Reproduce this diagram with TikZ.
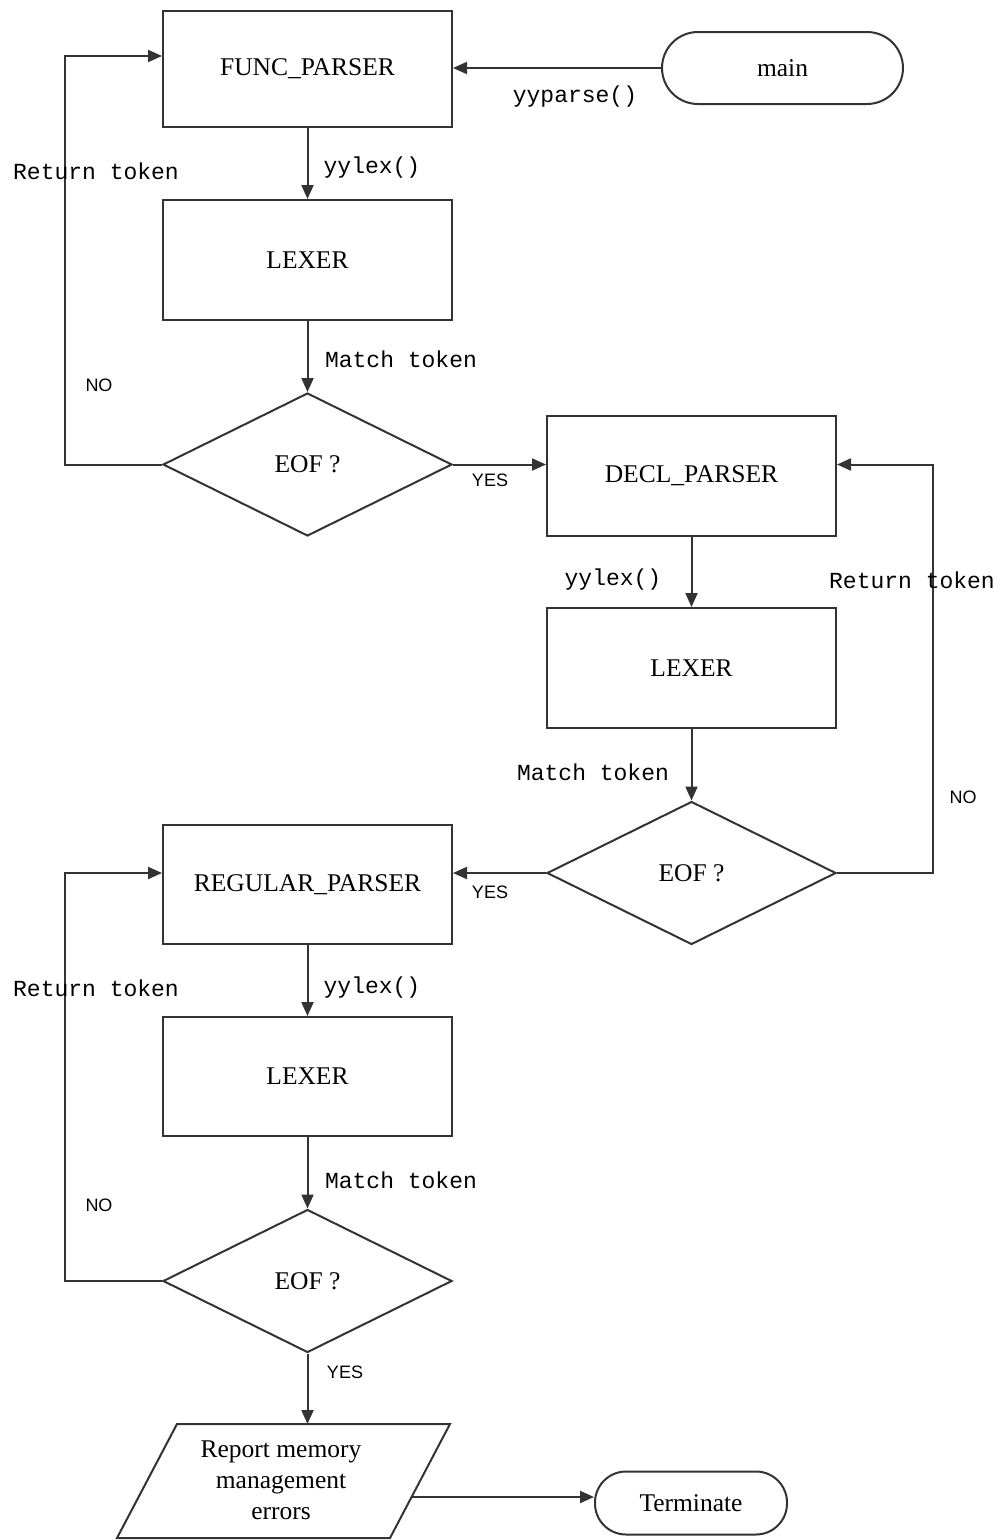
\documentclass[tikz,border=0pt]{standalone}
\usepackage{fontspec}
\setmainfont{Liberation Serif}
\newfontfamily\monof{Liberation Mono}
\newfontfamily\sansf{Liberation Sans}
\usetikzlibrary{arrows.meta,shapes.geometric}
\begin{document}
\begin{tikzpicture}[x=1pt,y=-1pt,
  line/.style={draw=black!80, line width=2pt},
  arr/.style={line, -{Triangle[length=14pt,width=12pt]}},
  proc/.style={draw=black!80, line width=2pt, minimum width=289pt, inner sep=0pt, font=\fontsize{25.5}{28}\selectfont},
  dec/.style={diamond, draw=black!80, line width=2pt, minimum width=289pt, minimum height=143pt, aspect=2, inner sep=0pt, font=\fontsize{25.5}{28}\selectfont},
  term/.style={draw=black!80, line width=2pt, inner sep=0pt, font=\fontsize{25.5}{28}\selectfont},
  lab/.style={font=\monof\fontsize{23}{26}\selectfont, inner sep=0pt},
  yn/.style={font=\sansf\fontsize{18}{20}\selectfont, inner sep=0pt}]
\useasboundingbox (0,0) rectangle (1001,1540);

% nodes
\node[proc, minimum height=116pt] (fp) at (307.5,69) {FUNC\_PARSER};
\node[proc, minimum height=120pt] (lx1) at (307.5,260) {LEXER};
\node[dec] (d1) at (307.5,464.5) {EOF ?};
\node[proc, minimum height=120pt] (dp) at (691.5,476) {DECL\_PARSER};
\node[proc, minimum height=120pt] (lx2) at (691.5,668) {LEXER};
\node[dec] (d2) at (691.5,873) {EOF ?};
\node[proc, minimum height=119pt] (rp) at (307.5,884.5) {REGULAR\_PARSER};
\node[proc, minimum height=119pt] (lx3) at (307.5,1076.5) {LEXER};
\node[dec] (d3) at (307.5,1281) {EOF ?};
\node[term, minimum width=241pt, minimum height=72pt, rounded corners=36pt] (main) at (782.5,68) {main};
\node[term, minimum width=192pt, minimum height=63pt, rounded corners=31pt] (term) at (691,1503) {Terminate};

% parallelogram
\draw[line] (177,1424) -- (450,1424) -- (390,1538) -- (117,1538) -- cycle;
\node[align=center, inner sep=0pt, font=\fontsize{25.5}{31}\selectfont] (rep) at (281,1480) {Report memory\\management\\errors};
\coordinate (repT) at (307.5,1424);
\coordinate (repR) at (411.6,1497);

% connectors
\draw[arr] (main.west) -- (main.west -| fp.east);
\draw[arr] (fp.south) -- (lx1.north);
\draw[arr] (lx1.south) -- (d1.north);
\draw[arr] (d1.west) -- ++(-97,0) |- ([yshift=13pt]fp.west);
\draw[arr] (d1.east) -- (d1.east -| dp.west);
\draw[arr] (dp.south) -- (lx2.north);
\draw[arr] (lx2.south) -- (d2.north);
\draw[arr] (d2.east) -- ++(96,0) |- (d1.east -| dp.east);
\draw[arr] (d2.west) -- (d2.west -| rp.east);
\draw[arr] (rp.south) -- (lx3.north);
\draw[arr] (lx3.south) -- (d3.north);
\draw[arr] (d3.west) -- ++(-97,0) |- (d2.west -| rp.west);
\draw[arr] (d3.south) -- (repT);
\draw[arr] (repR) -- (repR -| term.west);

% labels
\node[lab] (l1) at (575,97) {yyparse()};
\node[lab] (l2) at (372,168) {yylex()};
\node[lab] (l3) at (96,171) {Return token};
\node[lab] (l4) at (401,359) {Match token};
\node[yn] (l5) at (99,385) {NO};
\node[yn] (l6) at (490,480) {YES};
\node[lab] (l7) at (613,580) {yylex()};
\node[lab] (l8) at (912,580) {Return token};
\node[lab] (l9) at (593,772) {Match token};
\node[yn] (l10) at (963,797) {NO};
\node[yn] (l11) at (490,892) {YES};
\node[lab] (l12) at (96,988) {Return token};
\node[lab] (l13) at (372,988) {yylex()};
\node[lab] (l14) at (401,1180) {Match token};
\node[yn] (l15) at (99,1205) {NO};
\node[yn] (l16) at (345,1372) {YES};
\end{tikzpicture}
\end{document}
